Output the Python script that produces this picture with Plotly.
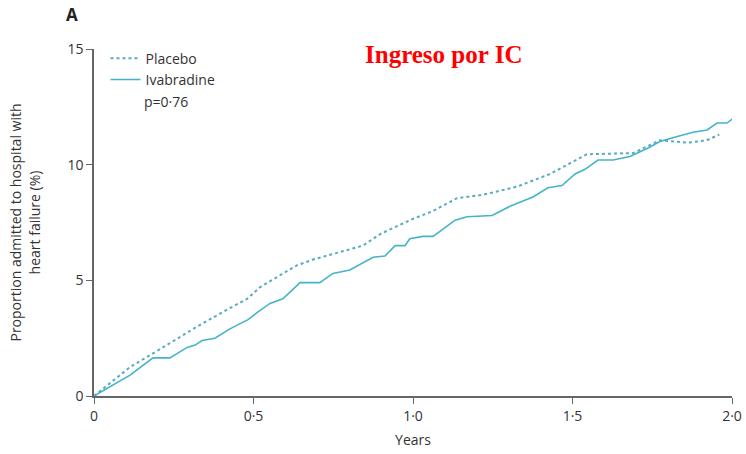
import plotly.graph_objects as go

# Data (years, % admitted to hospital with HF)
placebo_x = [0, 0.113, 0.216, 0.323, 0.426, 0.48, 0.52, 0.583, 0.636, 0.687, 0.74,
             0.843, 0.897, 0.99, 1.063, 1.138, 1.22, 1.326, 1.43, 1.50, 1.545,
             1.69, 1.774, 1.86, 1.92, 1.96]
placebo_y = [0, 1.25, 2.1, 3.0, 3.8, 4.2, 4.7, 5.2, 5.65, 5.9, 6.1,
             6.5, 7.0, 7.6, 8.0, 8.55, 8.7, 9.05, 9.6, 10.1, 10.45,
             10.5, 11.05, 10.95, 11.05, 11.3]

ivab_x = [0, 0.113, 0.185, 0.238, 0.292, 0.317, 0.339, 0.379, 0.426, 0.483, 0.511,
          0.552, 0.592, 0.646, 0.708, 0.749, 0.802, 0.875, 0.912, 0.944, 0.975,
          0.99, 1.031, 1.063, 1.132, 1.169, 1.248, 1.304, 1.376, 1.423, 1.467,
          1.508, 1.539, 1.58, 1.627, 1.68, 1.734, 1.774, 1.837, 1.878, 1.922,
          1.953, 1.984, 2.003]
ivab_y = [0, 0.9, 1.65, 1.65, 2.1, 2.2, 2.4, 2.5, 2.9, 3.3, 3.6,
          4.0, 4.2, 4.9, 4.9, 5.3, 5.45, 6.0, 6.05, 6.5, 6.5,
          6.8, 6.9, 6.9, 7.6, 7.75, 7.8, 8.2, 8.6, 9.0, 9.1,
          9.6, 9.8, 10.2, 10.2, 10.35, 10.7, 11.0, 11.25, 11.4, 11.5,
          11.8, 11.8, 12.0]

x_tickvals = [0, 0.5, 1.0, 1.5, 2.0]
x_ticktext = ["0", "0·5", "1·0", "1·5", "2·0"]
y_tickvals = [0, 5, 10, 15]
y_ticktext = ["0", "5", "10", "15"]

LINE_COLOR = "#45b4c8"
AXIS_COLOR = "#666666"
FONT = "Liberation Sans Narrow, Open Sans, sans-serif"

fig = go.Figure()
fig.add_trace(go.Scatter(x=placebo_x, y=placebo_y, mode="lines", name="Placebo",
                         legendgroup="p",
                         line=dict(color="#5aabc2", width=2, dash="dot")))
fig.add_trace(go.Scatter(x=ivab_x, y=ivab_y, mode="lines", name="Ivabradine",
                         legendgroup="i",
                         line=dict(color=LINE_COLOR, width=1.6)))

fig.update_layout(
    width=746, height=454,
    margin=dict(l=94, r=14, t=49, b=58, autoexpand=False),
    paper_bgcolor="white", plot_bgcolor="white",
    font=dict(family=FONT, size=14, color="#333333"),
    showlegend=True,
    legend=dict(x=0.018, y=1.018, xanchor="left", yanchor="top",
                bgcolor="rgba(0,0,0,0)", font=dict(size=14, color="#333333"),
                tracegroupgap=0, itemwidth=30),
    xaxis=dict(range=[0, 2.0], tickvals=x_tickvals, ticktext=x_ticktext,
               showgrid=False, zeroline=False, showline=True, linecolor=AXIS_COLOR,
               linewidth=1.5, ticks="outside", ticklen=6, tickcolor=AXIS_COLOR,
               tickfont=dict(size=14), automargin=False,
               title=dict(text="Years", font=dict(size=14), standoff=12)),
    yaxis=dict(range=[0, 15], tickvals=y_tickvals, ticktext=y_ticktext,
               showgrid=False, zeroline=False, showline=True, linecolor=AXIS_COLOR,
               linewidth=1.5, ticks="outside", ticklen=6, tickcolor=AXIS_COLOR,
               tickfont=dict(size=14), automargin=False,
               title=dict(text="Proportion admitted to hospital with<br>heart failure (%)",
                          font=dict(size=14), standoff=24)),
    annotations=[
        dict(text="<b>A</b>", xref="paper", yref="paper", x=-0.034, y=1.1,
             xanchor="center", yanchor="middle", showarrow=False,
             font=dict(size=17, color="#222222")),
        dict(text="p=0·76", xref="paper", yref="paper", x=0.076, y=0.85,
             xanchor="left", yanchor="middle", showarrow=False,
             font=dict(size=14, color="#333333")),
        dict(text="<b>Ingreso por IC</b>", xref="paper", yref="paper", x=0.548, y=0.985,
             xanchor="center", yanchor="middle", showarrow=False,
             font=dict(family="Liberation Serif, Times New Roman, serif", size=25, color="#ff0000")),
    ],
)

fig.write_html("out.html")
